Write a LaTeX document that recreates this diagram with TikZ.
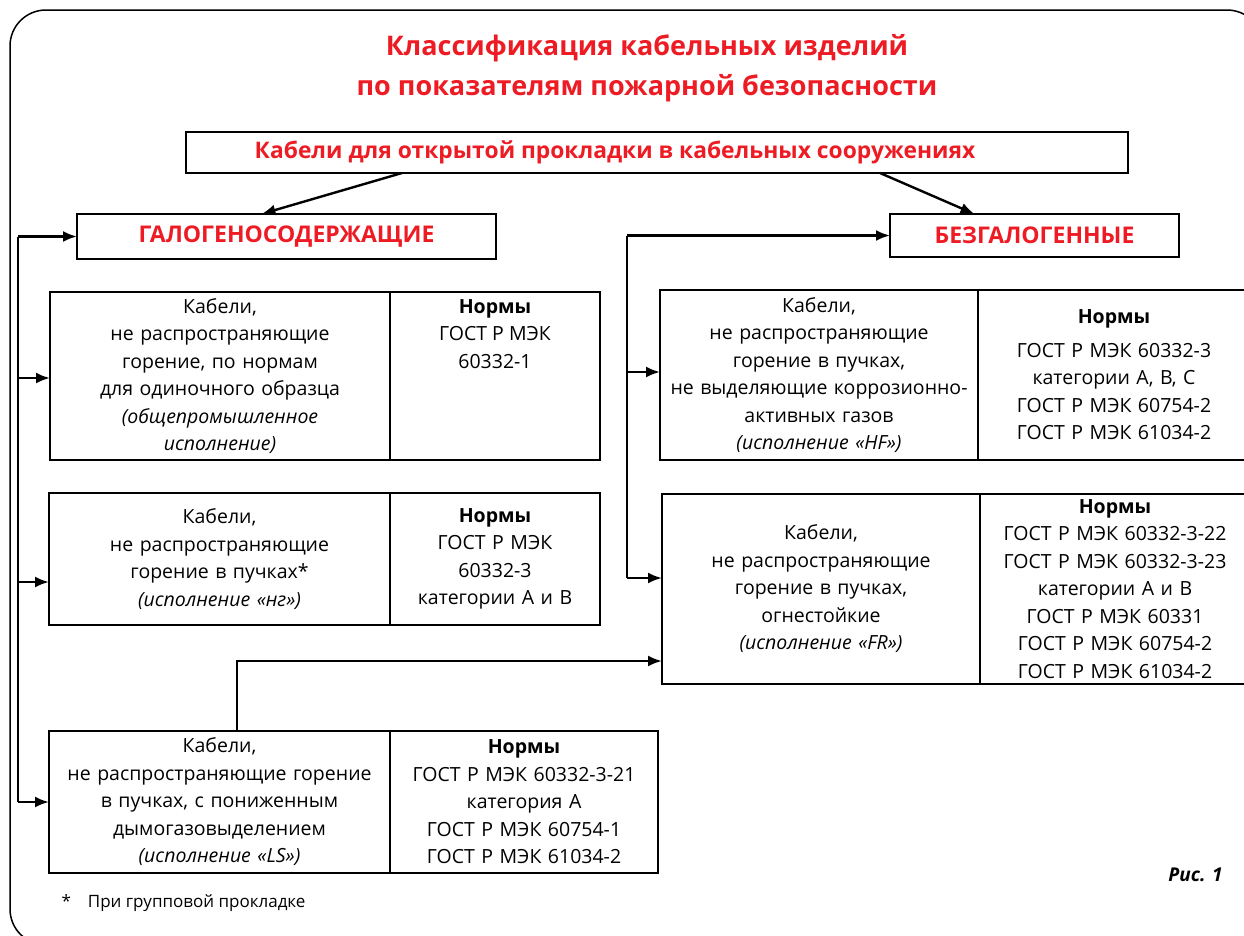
\documentclass[tikz,border=0pt]{standalone}
\usepackage{fontspec}
\setmainfont{Open Sans}
\usetikzlibrary{arrows.meta,positioning}
\definecolor{hdrred}{RGB}{237,28,36}
\begin{document}
\begin{tikzpicture}[x=1pt,y=-1pt,
  txt/.style={font=\fontsize{19.5}{27.5}\selectfont},
  cell/.style 2 args={draw,line width=2.4pt,text width=#1,minimum height=#2,inner xsep=0pt,outer sep=0pt,align=center,txt},
  hdr/.style={draw,line width=2.4pt,outer sep=0pt,text=hdrred,font=\bfseries\fontsize{23}{26}\selectfont},
  arr/.style={line width=2.4pt,-{Latex[length=14pt,width=11pt]}}]
\useasboundingbox (0,0) rectangle (1244,935);
\draw[line width=1.5pt,rounded corners=36pt] (10,10) rectangle (1263,945);
%%%% titles
\node[text=hdrred,font=\bfseries\fontsize{27}{40}\selectfont,align=center] (title) at (647,68)
  {Классификация кабельных изделий\\по показателям пожарной безопасности};
\node[hdr,minimum width=942pt,minimum height=41pt] (top) at (657,152.5) {};
\node[text=hdrred,font=\bfseries\fontsize{22.8}{26}\selectfont] (toptxt) at (615,152.5)
  {Кабели для открытой прокладки в кабельных сооружениях};
\node[hdr,minimum width=419pt,minimum height=45pt] (gal) at (286.5,236.5) {ГАЛОГЕНОСОДЕРЖАЩИЕ};
\node[hdr,minimum width=289pt,minimum height=43pt] (bez) at (1034.5,235.5) {БЕЗГАЛОГЕННЫЕ};
%%%% halogen side
\node[cell={340pt}{168pt}] (b1d) at (220,376)
  {Кабели,\\не распространяющие\\горение, по нормам\\для одиночного образца\\\textit{(общепромышленное}\\\textit{исполнение)}};
\node[cell={210pt}{168pt},right=0pt of b1d] (b1n) {};
\node[txt,align=center,below=4pt of b1n.north] (b1t) {\textbf{Нормы}\\ГОСТ Р МЭК\\60332-1};
\node[cell={341pt}{132pt}] (b2d) at (219.5,559)
  {Кабели,\\не распространяющие\\горение в пучках*\\\textit{(исполнение «нг»)}};
\node[cell={210pt}{132pt},right=0pt of b2d] (b2n)
  {\textbf{Нормы}\\ГОСТ Р МЭК\\60332-3\\категории А и В};
\node[cell={341pt}{142pt}] (b3d) at (219.5,802)
  {Кабели,\\не распространяющие горение\\в пучках, с пониженным\\дымогазовыделением\\\textit{(исполнение «LS»)}};
\node[cell={268pt}{142pt},right=0pt of b3d] (b3n)
  {\textbf{Нормы}\\ГОСТ Р МЭК 60332-3-21\\категория А\\ГОСТ Р МЭК 60754-1\\ГОСТ Р МЭК 61034-2};
%%%% halogen-free side
\node[cell={318pt}{170pt}] (hfd) at (819,375)
  {Кабели,\\не распространяющие\\горение в пучках,\\не выделяющие коррозионно-\\активных газов\\\textit{(исполнение «HF»)}};
\node[cell={272pt}{170pt},right=0pt of hfd] (hfn)
  {\textbf{Нормы}\\[6pt]ГОСТ Р МЭК 60332-3\\категории А, В, С\\ГОСТ Р МЭК 60754-2\\ГОСТ Р МЭК 61034-2};
\node[cell={318pt}{190pt}] (frd) at (821,589)
  {Кабели,\\не распространяющие\\горение в пучках,\\огнестойкие\\\textit{(исполнение «FR»)}};
\node[cell={270pt}{190pt},right=0pt of frd] (frn)
  {\textbf{Нормы}\\ГОСТ Р МЭК 60332-3-22\\ГОСТ Р МЭК 60332-3-23\\категории А и В\\ГОСТ Р МЭК 60331\\ГОСТ Р МЭК 60754-2\\ГОСТ Р МЭК 61034-2};
%%%% connectors
\draw[arr] ([xshift=-255pt]top.south) -- ([xshift=-25pt]gal.north);
\draw[arr] ([xshift=223pt]top.south) -- ([xshift=-60pt]bez.north);
\coordinate (lbus) at (18,0);
\coordinate (rbus) at (627,0);
\draw[line width=2.4pt] (gal.west -| lbus) -- (b3d.west -| lbus);
\foreach \n/\s in {gal/0,b1d/-2,b2d/-23,b3d/0}
\draw[arr] ([yshift=\s pt]\n.west -| lbus) -- ([yshift=\s pt]\n.west);
\draw[line width=2.4pt] (bez.west -| rbus) -- ([yshift=11pt]frd.west -| rbus);
\foreach \n/\s in {bez/0,hfd/3,frd/11}
\draw[arr] ([yshift=\s pt]\n.west -| rbus) -- ([yshift=\s pt]\n.west);
\draw[arr] ([xshift=17.5pt]b3d.north) |- ([yshift=-72pt]frd.west);
%%%% notes
\node[anchor=west,font=\fontsize{17}{18}\selectfont] (note) at (58,903) {*\quad При групповой прокладке};
\node[anchor=east,font=\bfseries\itshape\fontsize{19}{20}\selectfont] (fig) at (1226,875) {Рис. 1};
\end{tikzpicture}
\end{document}
